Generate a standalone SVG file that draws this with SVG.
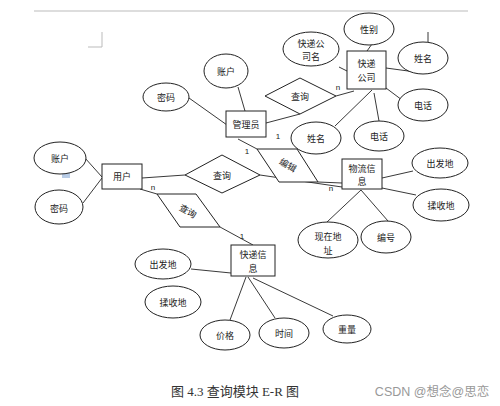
<svg xmlns="http://www.w3.org/2000/svg" width="500" height="406" viewBox="0 0 500 406">
<style>
.e{fill:#fff;stroke:#222;stroke-width:1}
.r{fill:#fff;stroke:#222;stroke-width:1}
.t{font-family:"Noto Sans CJK SC","Noto Sans",sans-serif;font-size:9px;fill:#222;text-anchor:middle;dominant-baseline:central}
.c line,.c polyline{stroke:#222;stroke-width:0.9;fill:none}
.l{font-family:"Liberation Sans",sans-serif;font-size:8px;fill:#222;text-anchor:middle}
</style>
<rect width="500" height="406" fill="#fff"/>
<g id="page">
<line x1="34" y1="11" x2="468" y2="11" stroke="#bbb" stroke-width="1.2"/>
<polyline points="102,32 102,47 88,47" fill="none" stroke="#bbb" stroke-width="1"/>
<rect x="62" y="169" width="8" height="9" fill="#b8cce6"/>
</g>
<g class="c" id="connectors">
<line x1="189" y1="98" x2="227" y2="125"/>
<line x1="238" y1="87" x2="245" y2="111"/>
<line x1="266" y1="123" x2="300" y2="114"/>
<line x1="336" y1="96" x2="354" y2="91"/>
<line x1="339" y1="67" x2="347" y2="71"/>
<line x1="372" y1="44" x2="367" y2="51"/>
<line x1="386" y1="68" x2="423" y2="73"/>
<line x1="428" y1="32" x2="428" y2="42"/>
<line x1="386" y1="88" x2="402" y2="100"/>
<line x1="374" y1="93" x2="379" y2="121"/>
<line x1="372" y1="90" x2="335" y2="126"/>
<line x1="238" y1="139" x2="257" y2="149"/>
<line x1="318" y1="182" x2="342" y2="183"/>
<line x1="260" y1="175" x2="342" y2="187"/>
<line x1="142" y1="178" x2="185" y2="175"/>
<line x1="140" y1="189" x2="157" y2="194"/>
<line x1="220" y1="227" x2="253" y2="245"/>
<line x1="85" y1="158" x2="102" y2="177"/>
<line x1="83" y1="203" x2="102" y2="178"/>
<line x1="191" y1="269" x2="231" y2="273"/>
<line x1="246" y1="277" x2="230" y2="320"/>
<line x1="248" y1="277" x2="275" y2="318"/>
<line x1="253" y1="278" x2="333" y2="316"/>
<line x1="382" y1="178" x2="413" y2="171"/>
<line x1="382" y1="188" x2="416" y2="195"/>
<line x1="361" y1="190" x2="327" y2="222"/>
<line x1="361" y1="190" x2="388" y2="221"/>
<text class="l" x="338" y="90">n</text>
<text class="l" x="278" y="139">1</text>
<text class="l" x="247" y="154">1</text>
<text class="l" x="331" y="191">n</text>
<text class="l" x="153" y="190">n</text>
<text class="l" x="242" y="239">1</text>
</g>
<g id="admin-account"><ellipse class="e" cx="226" cy="71" rx="22" ry="17"/><text class="t" x="226" y="71">账户</text></g>
<g id="admin-password"><ellipse class="e" cx="166" cy="97" rx="23" ry="14"/><text class="t" x="166" y="97">密码</text></g>
<g id="admin"><rect class="r" x="226" y="111" width="40" height="26"/><text class="t" x="246" y="124">管理员</text></g>
<g id="query-top"><polygon class="r" points="265,96 300,78 336,96 300,114"/><text class="t" x="300" y="96">查询</text></g>
<g id="company"><rect class="r" x="347" y="51" width="39" height="38"/><text class="t" x="366.5" y="63">快递</text><text class="t" x="366.5" y="77">公司</text></g>
<g id="company-name"><ellipse class="e" cx="311" cy="49" rx="28" ry="17"/><text class="t" x="311" y="43">快递公</text><text class="t" x="311" y="56">司名</text></g>
<g id="gender"><ellipse class="e" cx="369" cy="29" rx="25" ry="16"/><text class="t" x="369" y="29">性别</text></g>
<g id="name-top"><ellipse class="e" cx="423" cy="58" rx="25" ry="16"/><text class="t" x="423" y="58">姓名</text></g>
<g id="phone-right"><ellipse class="e" cx="423" cy="105" rx="25" ry="16"/><text class="t" x="423" y="105">电话</text></g>
<g id="phone-low"><ellipse class="e" cx="379" cy="136" rx="25" ry="15"/><text class="t" x="379" y="136">电话</text></g>
<g id="name-low"><ellipse class="e" cx="316" cy="138" rx="25" ry="16"/><text class="t" x="316" y="138">姓名</text></g>
<g id="edit"><polygon class="r" points="257,149 297,149 318,182 279,182"/><text class="t" x="288" y="165" transform="rotate(30 288 165)">编辑</text></g>
<g id="logistics"><rect class="r" x="342" y="159" width="40" height="30"/><text class="t" x="362" y="168">物流信</text><text class="t" x="362" y="181">息</text></g>
<g id="from-right"><ellipse class="e" cx="440" cy="163" rx="28" ry="15"/><text class="t" x="440" y="163">出发地</text></g>
<g id="to-right"><ellipse class="e" cx="441" cy="205" rx="28" ry="16"/><text class="t" x="441" y="205">揉收地</text></g>
<g id="current"><ellipse class="e" cx="328" cy="240" rx="30" ry="18"/><text class="t" x="328" y="236">现在地</text><text class="t" x="328" y="250">址</text></g>
<g id="number"><ellipse class="e" cx="386" cy="237" rx="25" ry="16"/><text class="t" x="386" y="237">编号</text></g>
<g id="user"><rect class="r" x="102" y="164" width="40" height="25"/><text class="t" x="122" y="176.5">用户</text></g>
<g id="user-account"><ellipse class="e" cx="60" cy="158" rx="26" ry="16"/><text class="t" x="60" y="158">账户</text></g>
<g id="user-password"><ellipse class="e" cx="59" cy="207" rx="24" ry="17"/><text class="t" x="59" y="208">密码</text></g>
<g id="query-mid"><polygon class="r" points="185,175 222,155 260,175 222,193"/><text class="t" x="222" y="175">查询</text></g>
<g id="query-low"><polygon class="r" points="157,194 196,194 220,227 180,227"/><text class="t" x="188" y="211" transform="rotate(30 188 211)">查询</text></g>
<g id="express"><rect class="r" x="231" y="245" width="44" height="31"/><text class="t" x="253" y="254">快递信</text><text class="t" x="253" y="268">息</text></g>
<g id="from-low"><ellipse class="e" cx="163" cy="264" rx="28" ry="15"/><text class="t" x="163" y="264">出发地</text></g>
<g id="to-low"><ellipse class="e" cx="173" cy="302" rx="28" ry="16"/><text class="t" x="173" y="302">揉收地</text></g>
<g id="price"><ellipse class="e" cx="225" cy="335" rx="25" ry="15"/><text class="t" x="225" y="335">价格</text></g>
<g id="time"><ellipse class="e" cx="284" cy="333" rx="25" ry="15"/><text class="t" x="284" y="333">时间</text></g>
<g id="weight"><ellipse class="e" cx="347" cy="329" rx="24" ry="14"/><text class="t" x="347" y="329">重量</text></g>
<text x="235" y="396" font-family="'Liberation Serif','Noto Sans CJK SC',serif" font-size="13" fill="#333" text-anchor="middle">图 4.3 查询模块 E-R 图</text>
<text x="432" y="396" font-family="'Liberation Sans','Noto Sans CJK SC',sans-serif" font-size="12.5" fill="#999" text-anchor="middle">CSDN @想念@思恋</text>
</svg>
